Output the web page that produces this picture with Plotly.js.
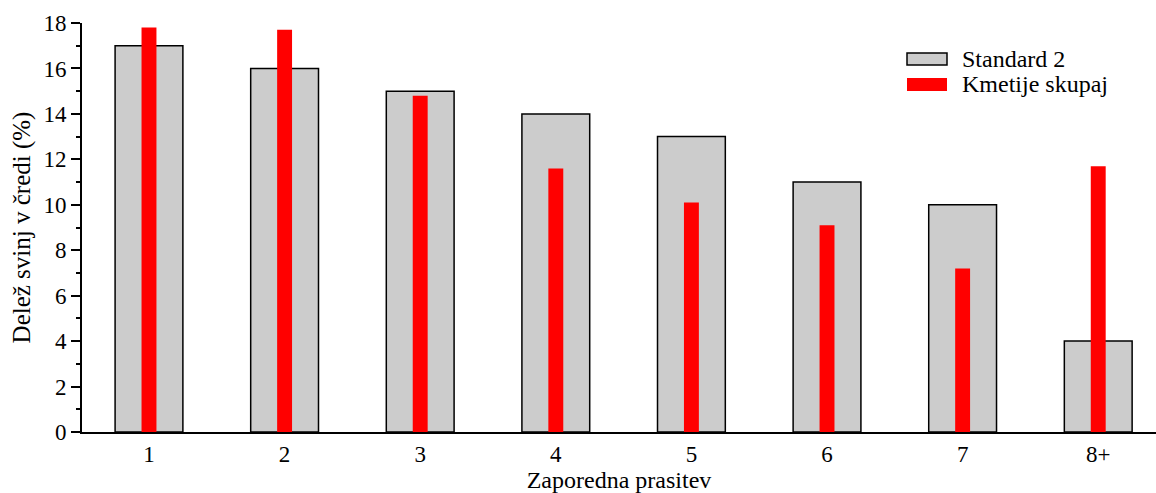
<!DOCTYPE html>
<html>
<head>
<meta charset="utf-8">
<script src="https://cdn.plot.ly/plotly-3.0.1.min.js"></script>
<style>html,body{margin:0;padding:0;background:#fff;}#chart{width:1156px;height:493px;}</style>
</head>
<body>
<div id="chart"></div>
<script>
const categories = ["1", "2", "3", "4", "5", "6", "7", "8+"];
const standard2 = [17, 16, 15, 14, 13, 11, 10, 4];
const kmetije = [17.8, 17.7, 14.8, 11.6, 10.1, 9.1, 7.2, 11.7];
const seriesNames = ["Standard 2", "Kmetije skupaj"];
const yTicks = [0, 2, 4, 6, 8, 10, 12, 14, 16, 18];

const FONT = "Liberation Serif, Times New Roman, serif";

const traces = [
  {
    type: "bar", name: seriesNames[0], x: categories, y: standard2,
    width: 0.5,
    marker: {color: "#cccccc", line: {color: "#000000", width: 1.5}},
    showlegend: false, hoverinfo: "x+y"
  },
  {
    type: "bar", name: seriesNames[1], x: categories, y: kmetije,
    width: 0.11,
    marker: {color: "#ff0000", line: {width: 0}},
    showlegend: false, hoverinfo: "x+y"
  }
];

const layout = {
  width: 1156, height: 493,
  margin: {l: 82, r: 0, t: 23, b: 61, pad: 0},
  paper_bgcolor: "#ffffff", plot_bgcolor: "#ffffff",
  barmode: "overlay",
  font: {family: FONT, size: 23, color: "#000"},
  xaxis: {
    type: "category",
    range: [-0.494, 7.426],
    showline: true, linecolor: "#000", linewidth: 2,
    ticks: "", showgrid: false, zeroline: false,
    tickfont: {family: FONT, size: 23},
    title: {text: "Zaporedna prasitev", font: {family: FONT, size: 24}, standoff: 0}
  },
  yaxis: {
    range: [0, 18],
    tickvals: yTicks,
    showline: true, linecolor: "#000", linewidth: 2,
    ticks: "outside", ticklen: 9, tickwidth: 2, tickcolor: "#000",
    minor: {dtick: 1, tick0: 0, ticks: "outside", ticklen: 4, tickwidth: 2, tickcolor: "#000", showgrid: false},
    showgrid: false, zeroline: false,
    tickfont: {family: FONT, size: 23},
    title: {text: "Delež svinj v čredi (%)", font: {family: FONT, size: 25}, standoff: 6}
  },
  shapes: [
    {type: "rect", xref: "paper", yref: "paper",
     x0: (907 - 82) / 1074, x1: (947 - 82) / 1074,
     y0: (432 - 65) / 409, y1: (432 - 53) / 409,
     fillcolor: "#cccccc", line: {color: "#000", width: 1.5}},
    {type: "rect", xref: "paper", yref: "paper",
     x0: (907 - 82) / 1074, x1: (947 - 82) / 1074,
     y0: (432 - 91) / 409, y1: (432 - 78) / 409,
     fillcolor: "#ff0000", line: {width: 0}}
  ],
  annotations: [
    {xref: "paper", yref: "paper", x: (960 - 82) / 1074, y: (432 - 59) / 409,
     xanchor: "left", yanchor: "middle", showarrow: false, text: seriesNames[0],
     font: {family: FONT, size: 24, color: "#000"}},
    {xref: "paper", yref: "paper", x: (960 - 82) / 1074, y: (432 - 84) / 409,
     xanchor: "left", yanchor: "middle", showarrow: false, text: seriesNames[1],
     font: {family: FONT, size: 24, color: "#000"}}
  ]
};

Plotly.newPlot("chart", traces, layout, {displayModeBar: false, staticPlot: true});
</script>
</body>
</html>
